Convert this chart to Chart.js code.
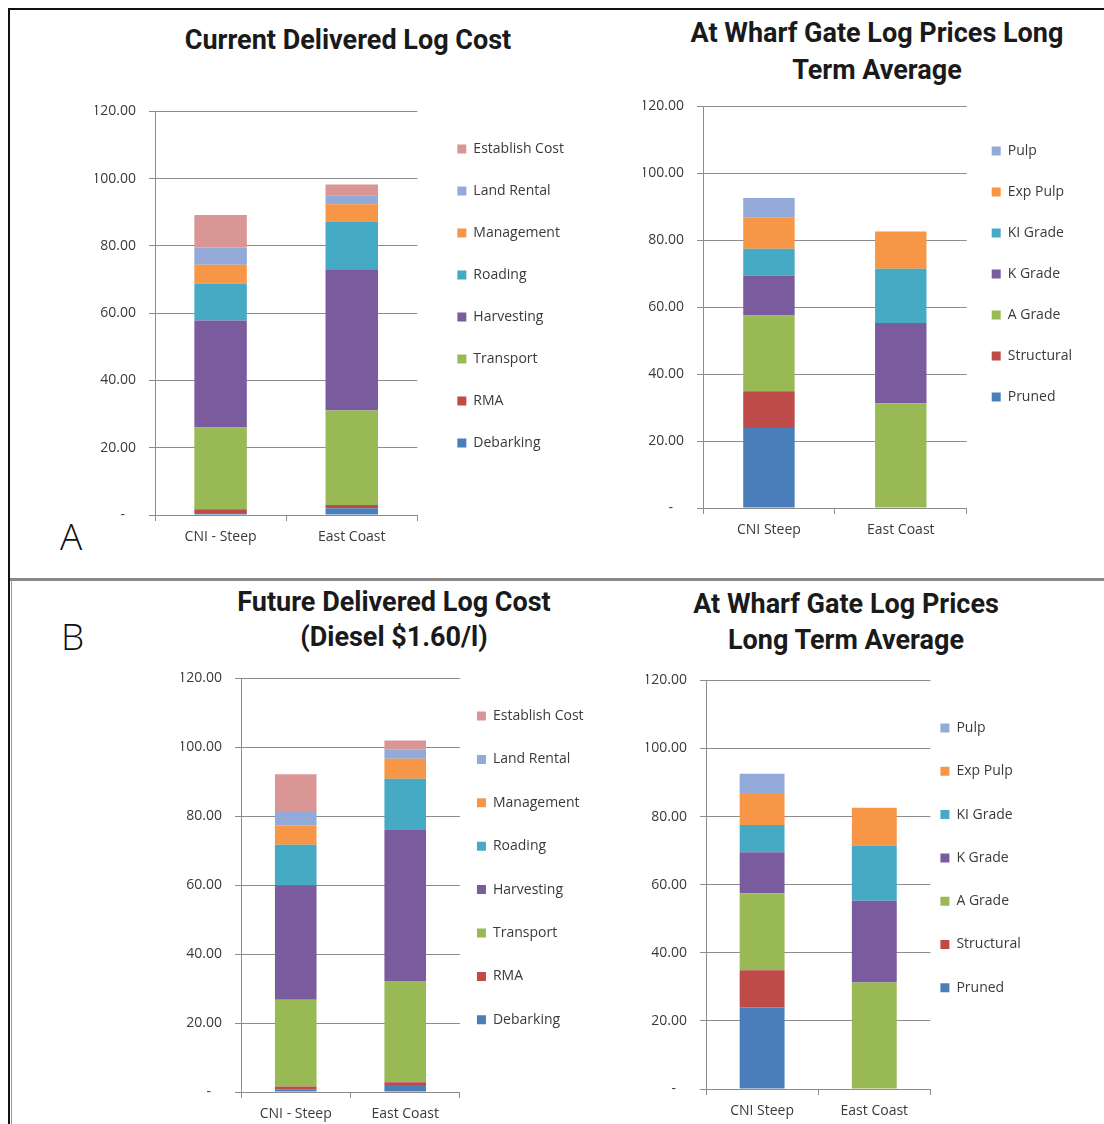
<!DOCTYPE html>
<html>
<head>
<meta charset="utf-8">
<script src="https://cdn.jsdelivr.net/npm/chart.js@4.4.0/dist/chart.umd.min.js"></script>
<style>
body { margin:0; background:#fff; width:1104px; height:1124px; position:relative; overflow:hidden; }
.rule { position:absolute; }
canvas { position:absolute; }
.title { position:absolute; width:500px; font-family:Roboto, sans-serif; font-weight:700; font-size:27px; color:#1a1a1a; text-align:center; white-space:nowrap; }
.tag { position:absolute; font-family:'Open Sans', sans-serif; font-weight:300; font-size:37px; line-height:40px; color:#111; }
</style>
</head>
<body>
<div class="rule" style="left:8px;top:8px;width:1096px;height:2px;background:#111"></div>
<div class="rule" style="left:8px;top:8px;width:2px;height:1116px;background:#111"></div>
<div class="rule" style="left:10px;top:578px;width:1094px;height:3px;background:#8a8a8a"></div>
<div class="rule" style="left:11px;top:581px;width:1px;height:543px;background:#9a9a9a"></div>

<div class="title" style="left:98px;top:22px;line-height:37px">Current Delivered Log Cost</div>
<div class="title" style="left:627px;top:15px;line-height:37px">At Wharf Gate Log Prices Long<br>Term Average</div>
<div class="title" style="left:144px;top:585px;line-height:35px">Future Delivered Log Cost<br>(Diesel $1.60/l)</div>
<div class="title" style="left:596px;top:586px;line-height:36px">At Wharf Gate Log Prices<br>Long Term Average</div>
<div class="tag" style="left:60px;top:516px">A</div>
<div class="tag" style="left:61px;top:616px">B</div>

<canvas id="c1" width="502" height="465" style="left:80px;top:90px"></canvas>
<canvas id="c2" width="456" height="463" style="left:628px;top:85px"></canvas>
<canvas id="c3" width="450" height="467" style="left:166px;top:657px"></canvas>
<canvas id="c4" width="419" height="465" style="left:631px;top:659px"></canvas>

<script>
// delivered log cost (stack order bottom -> top)
var costSites = ['CNI - Steep', 'East Coast'];
var costNames = ['Debarking', 'RMA', 'Transport', 'Harvesting', 'Roading', 'Management', 'Land Rental', 'Establish Cost'];
var costNow = [
  [0.6, 2.0],
  [1.1, 1.0],
  [24.3, 28.1],
  [31.8, 42.0],
  [11.0, 14.0],
  [5.6, 5.3],
  [5.1, 2.7],
  [9.7, 3.2]
];
var costFuture = [
  [0.8, 2.0],
  [0.8, 0.8],
  [25.2, 29.4],
  [33.2, 43.8],
  [11.7, 14.9],
  [5.6, 5.8],
  [4.2, 2.6],
  [10.7, 2.7]
];

// wharf gate log prices
var wharfSites = ['CNI Steep', 'East Coast'];
var wharfNames = ['Pruned', 'Structural', 'A Grade', 'K Grade', 'KI Grade', 'Exp Pulp', 'Pulp'];
var wharfPrices = [
  [23.9, 0],
  [11.0, 0],
  [22.6, 31.3],
  [12.0, 24.0],
  [8.0, 16.2],
  [9.4, 11.1],
  [5.7, 0]
];

var yTicks = [0, 20, 40, 60, 80, 100, 120];

var costColors = ['#4a7ebb', '#be4b48', '#98b954', '#7a5c9e', '#46aac5', '#f79646', '#93a9d7', '#d99694'];
var wharfColors = ['#4a7ebb', '#be4b48', '#98b954', '#7a5c9e', '#46aac5', '#f79646', '#93a9d7'];

var axisGrey = '#8c8c8c';
var textGrey = '#3a3a3a';
var smallFont = {family: "'Open Sans', sans-serif", size: 14};

// nudge the legend box after layout so it sits where excel put it
var legendShift = {
  id: 'legendShift',
  afterLayout: function(chart, args, opts) {
    var lg = chart.legend;
    lg.left += opts.dx; lg.right += opts.dx;
    lg.top += opts.dy; lg.bottom += opts.dy;
  }
};

function makeChart(id, sites, names, series, colors, o) {
  var datasets = [];
  for (var i = 0; i < names.length; i++) {
    datasets.push({
      label: names[i],
      data: series[i],
      backgroundColor: colors[i],
      borderWidth: 0,
      barPercentage: o.bar,
      categoryPercentage: 1
    });
  }
  return new Chart(document.getElementById(id), {
    type: 'bar',
    data: {labels: sites, datasets: datasets},
    options: {
      responsive: false,
      animation: false,
      devicePixelRatio: 1,
      layout: {padding: {left: 15, top: 15, right: o.padR, bottom: 0}},
      plugins: {
        legend: {
          position: 'right',
          align: 'start',
          reverse: true,
          maxWidth: 300,
          labels: {boxWidth: 9, boxHeight: 9, padding: o.gap, color: textGrey, font: smallFont}
        },
        tooltip: {enabled: false},
        legendShift: {dx: o.dx, dy: o.dy}
      },
      scales: {
        x: {
          stacked: true,
          offset: true,
          grid: {offset: true, drawOnChartArea: false, tickLength: 6, color: axisGrey},
          border: {color: axisGrey},
          ticks: {padding: 8, color: textGrey, font: smallFont, maxRotation: 0},
          afterFit: function(s) { s.height = o.xh; }
        },
        y: {
          stacked: true,
          min: yTicks[0],
          max: yTicks[yTicks.length - 1],
          afterBuildTicks: function(s) { s.ticks = yTicks.map(function(v) { return {value: v}; }); },
          ticks: {
            padding: 13,
            color: textGrey,
            font: smallFont,
            callback: function(v) { return v === 0 ? '-   ' : v.toFixed(2); }
          },
          grid: {color: axisGrey, tickLength: 6},
          border: {color: axisGrey},
          afterFit: function(s) { s.width = 60; }
        }
      }
    },
    plugins: [legendShift]
  });
}

makeChart('c1', costSites, costNames, costNow, costColors, {bar: 0.4, padR: 20, gap: 28, dx: 12, dy: 9, xh: 40});
makeChart('c2', wharfSites, wharfNames, wharfPrices, wharfColors, {bar: 0.39, padR: 0, gap: 27, dx: -2, dy: 17, xh: 40});
makeChart('c3', costSites, costNames, costFuture, costColors, {bar: 0.38, padR: 10, gap: 29.4, dx: -12.4, dy: 7.6, xh: 32});
makeChart('c4', wharfSites, wharfNames, wharfPrices, wharfColors, {bar: 0.4, padR: 0, gap: 29.3, dx: -19.3, dy: 17.7, xh: 35});
</script>
</body>
</html>
